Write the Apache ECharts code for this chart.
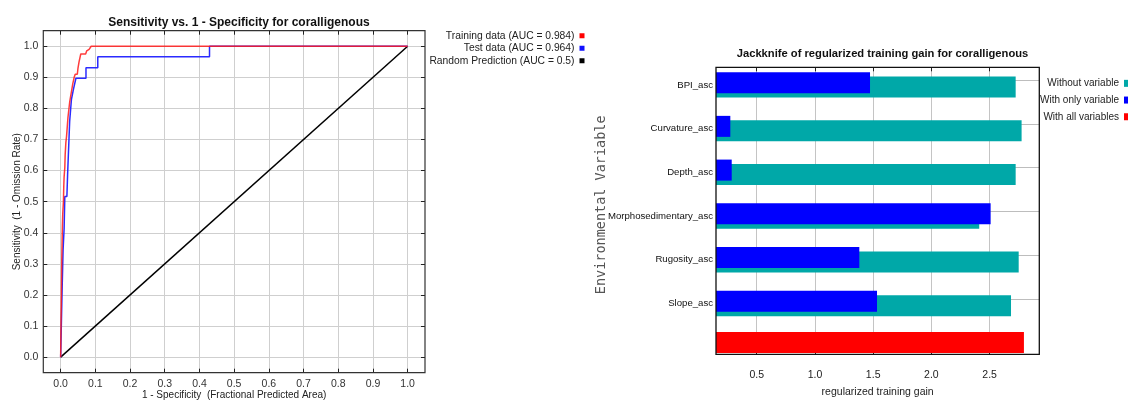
<!DOCTYPE html>
<html><head><meta charset="utf-8">
<script src="https://cdn.jsdelivr.net/npm/echarts@6/dist/echarts.min.js"></script>
<style>html,body{margin:0;padding:0;background:#fff}#c{width:1131px;height:401px}</style>
</head><body><div id="c"></div>
<script>
// ---------- ROC chart data ----------
const rocTicks = [0, 0.1, 0.2, 0.3, 0.4, 0.5, 0.6, 0.7, 0.8, 0.9, 1.0];
const rocNames = ['Training data (AUC = 0.984)', 'Test data (AUC = 0.964)', 'Random Prediction (AUC = 0.5)'];
const trainingROC = [
  [0,0],[0.001,0.1],[0.002,0.2],[0.003,0.3],[0.004,0.36],[0.005,0.42],[0.006,0.46],[0.008,0.5],
  [0.009,0.55],[0.010,0.58],[0.012,0.61],[0.013,0.65],[0.015,0.69],[0.017,0.71],[0.019,0.74],
  [0.021,0.77],[0.023,0.79],[0.026,0.82],[0.029,0.84],[0.032,0.86],[0.035,0.88],[0.039,0.9],
  [0.042,0.91],[0.048,0.91],[0.05,0.93],[0.053,0.95],[0.056,0.965],[0.058,0.975],[0.072,0.975],
  [0.075,0.985],[0.082,0.99],[0.088,1.0],[1,1]
];
const testROC = [
  [0,0],[0.004,0.207],[0.007,0.345],[0.01,0.414],[0.012,0.517],[0.018,0.517],[0.02,0.586],
  [0.024,0.586],[0.026,0.759],[0.03,0.759],[0.031,0.828],[0.036,0.828],[0.037,0.862],[0.042,0.862],
  [0.044,0.897],[0.073,0.897],[0.073,0.931],[0.107,0.931],[0.107,0.966],[0.429,0.966],[0.429,1.0],[1,1]
];
const randomROC = [[0,0],[1,1]];

// ---------- Jackknife chart data ----------
const variables = ['BPI_asc','Curvature_asc','Depth_asc','Morphosedimentary_asc','Rugosity_asc','Slope_asc',''];
const withoutVariable  = [2.724, 2.775, 2.724, 2.411, 2.750, 2.684, null];
const withOnlyVariable = [1.473, 0.273, 0.285, 2.509, 1.381, 1.533, null];
const withAllVariables = [null, null, null, null, null, null, 2.795];
const gainTicks = [0.5, 1.0, 1.5, 2.0, 2.5];
const jackNames = ['Without variable', 'With only variable', 'With all variables'];

const SANS = 'Liberation Sans, Arial, sans-serif';

const chart = echarts.init(document.getElementById('c'), null, {renderer: 'canvas'});

const rocTickAxis = (pos, gi, extra) => Object.assign({
  type: 'value', gridIndex: gi, position: pos, min: -0.05, max: 1.05,
  axisLine: {show: false, onZero: false},
  axisTick: {show: true, inside: true, length: 4, customValues: rocTicks, lineStyle: {color: '#222'}},
  axisLabel: {show: false},
  splitLine: {show: false}
}, extra || {});

const RIGHT_LEFT = 716, RIGHT_W = 323.3;
const GMIN = 0.15, GMAX = 2.927;

const option = {
  animation: false,
  backgroundColor: '#fff',
  title: [
    {text: 'Sensitivity vs. 1 - Specificity for coralligenous', left: 234, top: 12, textAlign: 'center',
     textStyle: {fontFamily: SANS, fontSize: 12, fontWeight: 'bold', color: '#111'}},
    {text: 'Jackknife of regularized training gain for coralligenous', left: 877.5, top: 43, textAlign: 'center',
     textStyle: {fontFamily: SANS, fontSize: 11.2, fontWeight: 'bold', color: '#111'}}
  ],
  legend: [
    {data: rocNames, orient: 'vertical', align: 'right', right: 546.5, top: 29.5, icon: 'rect',
     itemWidth: 5, itemHeight: 5, itemGap: 0, padding: 0, selectedMode: false,
     textStyle: {fontFamily: SANS, fontSize: 10.3, color: '#222', lineHeight: 12.5}},
    {data: jackNames, orient: 'vertical', align: 'right', right: 3, top: 75, icon: 'rect',
     itemWidth: 4, itemHeight: 7, itemGap: 0, padding: 0, selectedMode: false,
     textStyle: {fontFamily: SANS, fontSize: 10, color: '#222', lineHeight: 16.7}}
  ],
  grid: [
    {left: 43.3, top: 30.7, width: 381.7, height: 342, show: true, z: 10, outerBoundsMode: 'none', containLabel: false,
     backgroundColor: 'rgba(0,0,0,0)', borderColor: '#333', borderWidth: 1.2},
    {left: RIGHT_LEFT, top: 67.3, width: RIGHT_W, height: 287, show: true, z: 10, outerBoundsMode: 'none', containLabel: false,
     backgroundColor: 'rgba(0,0,0,0)', borderColor: '#111', borderWidth: 1.3},
    {left: RIGHT_LEFT, top: 63.0, width: RIGHT_W, height: 306, outerBoundsMode: 'none', containLabel: false},
    {left: RIGHT_LEFT, top: 58.34, width: RIGHT_W, height: 306, outerBoundsMode: 'none', containLabel: false}
  ],
  xAxis: [
    rocTickAxis('bottom', 0, {
      name: '1 - Specificity  (Fractional Predicted Area)', nameLocation: 'middle', nameGap: 18, nameMoveOverlap: false,
      nameTextStyle: {fontFamily: SANS, fontSize: 10, color: '#222'},
      axisLabel: {show: true, customValues: rocTicks, margin: 6, fontFamily: SANS, fontSize: 10.5, color: '#333',
        formatter: v => v.toFixed(1)},
      splitLine: {show: true, lineStyle: {color: '#cfcfcf', width: 1}}
    }),
    rocTickAxis('top', 0),
    {type: 'value', gridIndex: 1, position: 'bottom', min: GMIN, max: GMAX,
     name: 'regularized training gain', nameLocation: 'middle', nameGap: 32,
     nameTextStyle: {fontFamily: SANS, fontSize: 10.5, color: '#222'},
     axisLine: {show: false, onZero: false},
     axisTick: {show: true, inside: true, length: 4, customValues: gainTicks, lineStyle: {color: '#222'}},
     axisLabel: {customValues: gainTicks, margin: 15, fontFamily: SANS, fontSize: 10.5, color: '#222',
       formatter: v => v.toFixed(1)},
     splitLine: {show: true, lineStyle: {color: '#c4c4c4', width: 1}}},
    {type: 'value', gridIndex: 1, position: 'top', min: GMIN, max: GMAX,
     axisLine: {show: false, onZero: false},
     axisTick: {show: true, inside: true, length: 4, customValues: gainTicks, lineStyle: {color: '#222'}},
     axisLabel: {show: false}, splitLine: {show: false}},
    {type: 'value', gridIndex: 2, min: GMIN, max: GMAX, show: false},
    {type: 'value', gridIndex: 3, min: GMIN, max: GMAX, show: false}
  ],
  yAxis: [
    rocTickAxis('left', 0, {
      name: 'Sensitivity  (1 - Omission Rate)', nameLocation: 'middle', nameGap: 21, nameMoveOverlap: false,
      nameTextStyle: {fontFamily: SANS, fontSize: 10, color: '#222'},
      axisLabel: {show: true, customValues: rocTicks, margin: 5, fontFamily: SANS, fontSize: 10.5, color: '#333',
        formatter: v => v.toFixed(1)},
      splitLine: {show: true, lineStyle: {color: '#cfcfcf', width: 1}}
    }),
    rocTickAxis('right', 0),
    {type: 'value', gridIndex: 1, min: 0, max: 1,
     name: 'Environmental Variable', nameLocation: 'middle', nameGap: 108,
     nameTextStyle: {fontFamily: 'DejaVu Sans Mono, monospace', fontSize: 13.5, color: '#555', padding: [0, 0, 0, 12]},
     axisLine: {show: false, onZero: false}, axisTick: {show: false}, axisLabel: {show: false}, splitLine: {show: false}},
    {type: 'category', gridIndex: 2, data: variables, inverse: true,
     axisLine: {show: false, onZero: false}, axisTick: {show: false},
     axisLabel: {margin: 3, fontFamily: SANS, fontSize: 9.6, color: '#111'},
     splitLine: {show: false}},
    {type: 'category', gridIndex: 3, data: variables, inverse: true, show: false}
  ],
  series: [
    {name: rocNames[2], type: 'line', xAxisIndex: 0, yAxisIndex: 0, data: randomROC,
     showSymbol: false, lineStyle: {color: '#000', width: 1.5}, itemStyle: {color: '#000'}, z: 3},
    {name: rocNames[1], type: 'line', xAxisIndex: 0, yAxisIndex: 0, data: testROC,
     showSymbol: false, lineStyle: {color: '#2b2bff', width: 1.5}, itemStyle: {color: '#1010ff'}, z: 4},
    {name: rocNames[0], type: 'line', xAxisIndex: 0, yAxisIndex: 0, data: trainingROC,
     showSymbol: false, lineStyle: {color: '#ff1a1a', width: 1.5, opacity: 0.85}, itemStyle: {color: '#ff0000'}, z: 5},

    {name: jackNames[1], type: 'bar', xAxisIndex: 4, yAxisIndex: 3, data: withOnlyVariable,
     barWidth: 21, barGap: '-79%', itemStyle: {color: '#0000ff'}, z: 4},
    {name: jackNames[0], type: 'bar', xAxisIndex: 4, yAxisIndex: 3, data: withoutVariable,
     barWidth: 21, barGap: '-79%', itemStyle: {color: '#00a8a8'}, z: 3},
    {name: jackNames[2], type: 'bar', xAxisIndex: 5, yAxisIndex: 4, data: withAllVariables,
     barWidth: 21, itemStyle: {color: '#ff0000'}, z: 2,
     markLine: {silent: true, symbol: 'none', z: 1, label: {show: false},
       lineStyle: {color: '#bdbdbd', width: 1, type: 'solid'},
       data: variables.slice(0, 6).map(v => ({yAxis: v}))}}
  ]
};
chart.setOption(option);
</script></body></html>
